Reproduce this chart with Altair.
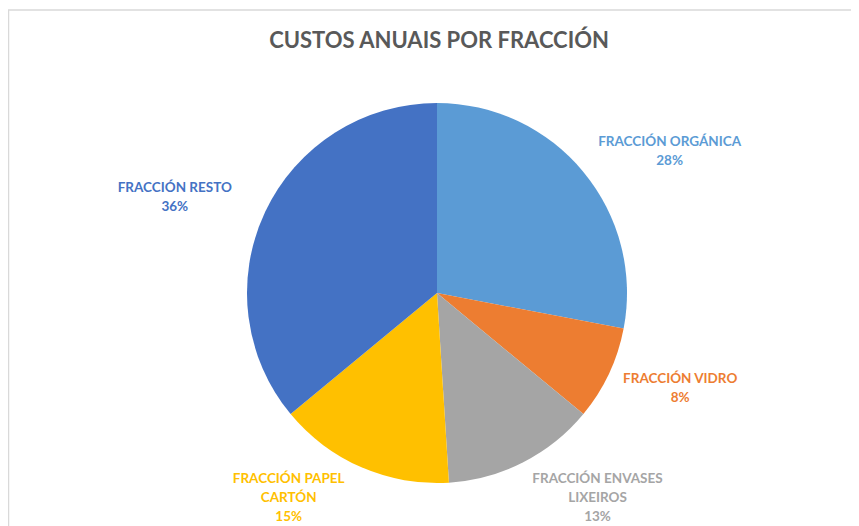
import altair as alt
import pandas as pd

categories = ["FRACCIÓN ORGÁNICA", "FRACCIÓN VIDRO", "FRACCIÓN ENVASES LIXEIROS",
              "FRACCIÓN PAPEL CARTÓN", "FRACCIÓN RESTO"]
label_lines = ["FRACCIÓN ORGÁNICA", "FRACCIÓN VIDRO", "FRACCIÓN ENVASES\nLIXEIROS",
               "FRACCIÓN PAPEL\nCARTÓN", "FRACCIÓN RESTO"]
shares = [28, 8, 13, 15, 36]
colors = ["#5B9BD5", "#ED7D31", "#A5A5A5", "#FFC000", "#4472C4"]
title_text = "CUSTOS ANUAIS POR FRACCIÓN"

df = pd.DataFrame({
    "cat": categories,
    "share": shares,
    "order": list(range(len(categories))),
    "label": [f"{l}\n{s}%" for l, s in zip(label_lines, shares)],
})

CX, CY, R = 429, 285, 190
FONT = "Lato"

color_scale = alt.Scale(domain=categories, range=colors)

base = alt.Chart(df)

pie = base.mark_arc(radius=R).encode(
    theta=alt.Theta("share:Q", stack=True),
    order=alt.Order("order:Q"),
    color=alt.Color("cat:N", scale=color_scale, legend=None),
    x=alt.value(CX), y=alt.value(CY),
)

# label nudges (style) per category; block top-line anchored
nudges = {
    categories[0]: (40, 8.5),
    categories[1]: (17, -20.5),
    categories[2]: (47, -37),
    categories[3]: (-49, -43),
    categories[4]: (-36, 1.5),
}

lab_base = base.transform_window(
    cum="sum(share)", sort=[alt.SortField("order")]
).transform_joinaggregate(
    total="sum(share)"
).transform_calculate(
    mid="(datum.cum - datum.share/2) / datum.total * 2 * PI"
)

label_layers = []
for cat, (dx, dy) in nudges.items():
    label_layers.append(
        lab_base.transform_filter(alt.datum.cat == cat).mark_text(
            font=FONT, fontWeight="bold", fontSize=13.5, lineBreak="\n",
            lineHeight=19, align="center", baseline="middle", dx=dx, dy=dy,
        ).encode(
            theta=alt.Theta("mid:Q", scale=None, stack=None),
            radius=alt.value(250),
            text="label:N",
            color=alt.Color("cat:N", scale=color_scale, legend=None),
            x=alt.value(CX), y=alt.value(CY),
        )
    )

title = alt.Chart(pd.DataFrame({"t": [title_text]})).mark_text(
    font=FONT, fontWeight="bold", fontSize=22, color="#595959",
    align="center", baseline="middle",
).encode(text="t:N", x=alt.value(431), y=alt.value(33))

border_left = alt.Chart(pd.DataFrame({"a": [0]})).mark_rule(
    color="#D9D9D9", strokeWidth=1.5
).encode(x=alt.value(0.5), y=alt.value(2), y2=alt.value(530))
border_top = alt.Chart(pd.DataFrame({"a": [0]})).mark_rule(
    color="#D9D9D9", strokeWidth=1.5
).encode(x=alt.value(0), x2=alt.value(860), y=alt.value(2))

chart = alt.layer(pie, *label_layers, title, border_left, border_top).properties(
    width=843, height=518, padding=0, autosize=alt.AutoSizeParams(type="none"),
    background="white",
).configure_view(stroke=None)

chart.save("out.html", embed_options={"renderer": "svg", "actions": False})
